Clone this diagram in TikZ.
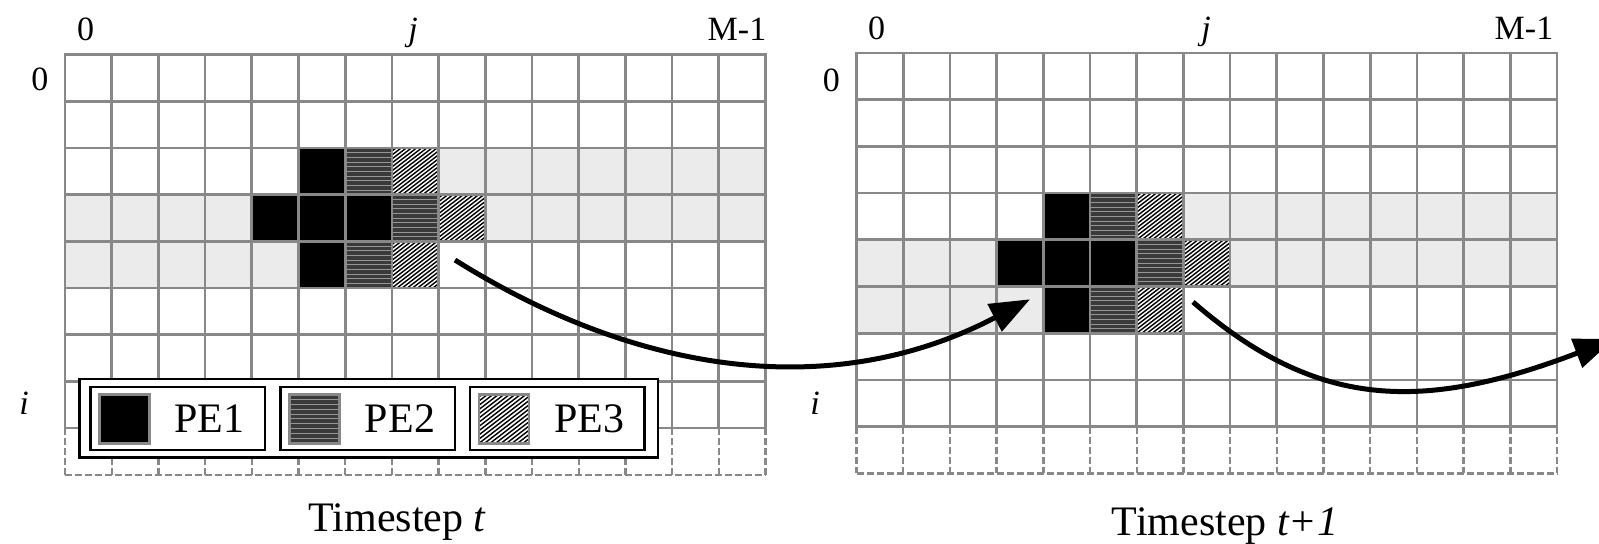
\documentclass[tikz,border=0pt]{standalone}
\usepackage{fontspec}
\setmainfont{Liberation Serif}
\usetikzlibrary{arrows.meta}
\definecolor{gridgray}{RGB}{136,136,136}
\definecolor{bandgray}{RGB}{235,235,235}
\definecolor{petwo}{RGB}{58,58,58}
\definecolor{stripec}{RGB}{150,150,150}
\tikzset{
  gridline/.style={draw=gridgray, line width=1.35pt, line cap=rect},
  dashline/.style={draw=gridgray, line width=1.2pt, dash pattern=on 3.5pt off 1.5pt},
  stripe/.style={draw=stripec, line width=0.35pt},
  hatch/.style={draw=black, line width=0.7pt},
  legbox/.style={draw=black, line width=1.35pt, fill=white},
  swatch/.style={draw=gridgray, line width=1.35pt},
  lab/.style={font=\fontsize{17}{20}\selectfont, inner sep=0pt, anchor=base},
  captxt/.style={font=\fontsize{21}{25}\selectfont, inner sep=0pt, anchor=base},
  petxt/.style={font=\fontsize{21}{25}\selectfont, inner sep=0pt, anchor=base},
  flow/.style={line width=2.5pt, -{Triangle[length=20pt,width=15pt]}},
}
\newcommand\bandbox[4]{\fill[bandgray] (#1,#2) rectangle ++(#3,#4);}
\newcommand\blackbox[4]{\fill[black] (#1,#2) rectangle ++(#3,#4);}
\newcommand\stripebox[4]{%
  \fill[petwo] (#1,#2) rectangle ++(#3,#4);
  \foreach \k in {1,...,9}{\draw[stripe] ({#1},{#2+\k*#4/10}) -- ++(#3,0);}}
\newcommand\hatchbox[4]{%
  \begin{scope}
  \clip (#1,#2) rectangle ++(#3,#4);
  \fill[white] (#1,#2) rectangle ++(#3,#4);
  \foreach \k in {-12,...,9}{\draw[hatch] ({#1+(\k)*#3*0.11},{#2+#4}) -- ++({1.3*#4},{-#4});}
  \end{scope}}
\newcommand\pegrid{%
  \foreach \r in {0,...,8}{\draw[gridline] (0,\r) -- (15,\r);}
  \foreach \c in {0,...,15}{\draw[gridline] (\c,0) -- (\c,8);}
  \foreach \c in {0,...,15}{\draw[dashline] (\c,8) -- (\c,9);}
  \draw[dashline] (0,9) -- (15,9);}
\begin{document}
\begin{tikzpicture}[x=0.5pt, y=-0.5pt]
\useasboundingbox (0,0) rectangle (1599,543);
% ---------- left grid ----------
\begin{scope}[shift={(65,54.5)}, x=23.35pt, y=-23.35pt]
  \foreach \c in {8,...,14}{\bandbox{\c}{2}{1}{1}}
  \foreach \c in {0,...,3,9,10,11,12,13,14}{\bandbox{\c}{3}{1}{1}}
  \foreach \c in {0,...,4}{\bandbox{\c}{4}{1}{1}}
  \blackbox{5}{2}{1}{1}\blackbox{4}{3}{1}{1}\blackbox{5}{3}{1}{1}\blackbox{6}{3}{1}{1}\blackbox{5}{4}{1}{1}
  \stripebox{6}{2}{1}{1}\stripebox{7}{3}{1}{1}\stripebox{6}{4}{1}{1}
  \hatchbox{7}{2}{1}{1}\hatchbox{8}{3}{1}{1}\hatchbox{7}{4}{1}{1}
  \pegrid
\end{scope}
% ---------- right grid ----------
\begin{scope}[shift={(856.5,53)}, x=23.35pt, y=-23.35pt]
  \foreach \c in {7,...,14}{\bandbox{\c}{3}{1}{1}}
  \foreach \c in {0,1,2,8,9,10,11,12,13,14}{\bandbox{\c}{4}{1}{1}}
  \foreach \c in {0,...,3}{\bandbox{\c}{5}{1}{1}}
  \blackbox{4}{3}{1}{1}\blackbox{3}{4}{1}{1}\blackbox{4}{4}{1}{1}\blackbox{5}{4}{1}{1}\blackbox{4}{5}{1}{1}
  \stripebox{5}{3}{1}{1}\stripebox{6}{4}{1}{1}\stripebox{5}{5}{1}{1}
  \hatchbox{6}{3}{1}{1}\hatchbox{7}{4}{1}{1}\hatchbox{6}{5}{1}{1}
  \pegrid
\end{scope}
% ---------- legend ----------
\draw[legbox] (79.3,379) rectangle (658,457.3);
\draw[legbox] (90.7,387) rectangle (265,450);
\draw[legbox] (280.7,387) rectangle (455,450);
\draw[legbox] (470,387) rectangle (644.3,450);
\blackbox{99.3}{394.3}{50}{49}
\draw[swatch] (99.3,394.3) rectangle ++(50,49);
\stripebox{289.3}{394.3}{50}{49}
\draw[swatch] (289.3,394.3) rectangle ++(50,49);
\hatchbox{479}{394.3}{50}{49}
\draw[swatch] (479,394.3) rectangle ++(50,49);
\node[petxt] (pe1) at (209.5,432.7) {PE1};
\node[petxt] (pe2) at (400,432.7) {PE2};
\node[petxt] (pe3) at (589.5,432.7) {PE3};
% ---------- labels ----------
\node[lab] (lt0) at (85.5,40) {0};
\node[lab] (ltj) at (413,40) {\itshape j};
\node[lab] (ltm) at (737,40) {M-1};
\node[lab] (ll0) at (40,90) {0};
\node[lab] (lli) at (24,414) {\itshape i};
\node[lab] (rt0) at (876.7,39.5) {0};
\node[lab] (rtj) at (1206,39.5) {\itshape j};
\node[lab] (rtm) at (1524,39.5) {M-1};
\node[lab] (rl0) at (831.3,91) {0};
\node[lab] (rli) at (815,414) {\itshape i};
\node[captxt] (capl) at (397.5,531.7) {Timestep \textit{t}};
\node[captxt] (capr) at (1225,535) {Timestep \textit{t+1}};
% ---------- arrows ----------
\coordinate (a1s) at (455,260);
\coordinate (a1e) at (1030,299.3);
\coordinate (a2s) at (1193,302);
\coordinate (a2e) at (1614,339);
\draw[flow] (a1s) .. controls (641.3,376.8) and (835.1,401.1) .. (a1e);
\draw[flow] (a2s) .. controls (1313.8,406.8) and (1417.9,414) .. (a2e);
\end{tikzpicture}
\end{document}
